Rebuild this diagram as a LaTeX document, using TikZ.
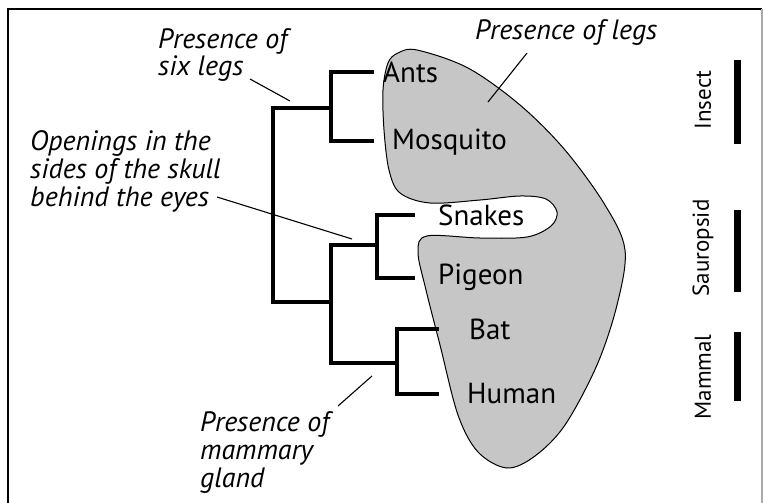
\documentclass[tikz,border=0pt]{standalone}
\usepackage{fontspec}
\setmainfont{PT Sans}
\usepackage{tikz}
\usetikzlibrary{positioning,calc}
\definecolor{blobfill}{RGB}{198,198,198}
\definecolor{framegray}{RGB}{170,170,170}
\tikzset{
  branch/.style={draw=black, line width=3.6pt, line cap=rect},
  lead/.style={draw=black, line width=1.1pt},
  bar/.style={draw=black, line width=7pt},
  taxon/.style={anchor=west, inner sep=0pt, font=\fontsize{29}{34}\selectfont},
  note/.style={anchor=west, inner sep=0pt, align=left, font=\fontsize{28}{28}\selectfont\itshape},
  grouplbl/.style={rotate=90, inner sep=0pt, font=\fontsize{23}{28}\selectfont},
  blob/.style={draw=black, line width=1pt, fill=blobfill}
}
\begin{document}
\begin{tikzpicture}[x=1pt, y=-1pt]
  \useasboundingbox (0,0) rectangle (763,503);
  % frame
  \draw[line width=1.2pt] (8,503) -- (8,9) -- (762,9);
  \draw[framegray, line width=1.2pt] (762,9) -- (762,503);

  % shaded region
  \draw[blob] plot[smooth cycle, tension=0.55] coordinates {
    (417,50) (468,68) (520,105) (565,150) (605,205) (625,250)
    (617,305) (597,365) (565,425) (535,456) (507,468) (478,452)
    (458,415) (440,345) (426,290) (418,252) (427,236) (480,238)
    (527,237) (551,226) (557,212) (546,199) (520,196) (480,200)
    (430,203) (400,193) (389,170) (384,130) (383,90) (388,63) (398,53)};

  % taxa
  \node[taxon] (ants) at (383,72) {Ants};
  \node[taxon] (mosq) at (392,142) {Mosquito};
  \node[taxon] (snakes) at (438,215) {Snakes};
  \node[taxon] (pigeon) at (438,277) {Pigeon};
  \node[taxon] (bat) at (469,329) {Bat};
  \node[taxon] (human) at (467,394) {Human};

  % branch points and tips
  \coordinate (root) at (273,200);
  \coordinate (ins) at (331,108);
  \coordinate (vert) at (331,302);
  \coordinate (saur) at (377,245);
  \coordinate (mamm) at (397,363);
  \coordinate (tAnts) at (372,72);
  \coordinate (tMosq) at (372,141);
  \coordinate (tSnakes) at (413,215);
  \coordinate (tPigeon) at (413,278);
  \coordinate (tBat) at (437,329);
  \coordinate (tHuman) at (437,394);

  \draw[branch] (ins) -| (root) |- (vert);
  \draw[branch] (tAnts) -| (ins) |- (tMosq);
  \draw[branch] (saur) -| (vert) |- (mamm);
  \draw[branch] (tSnakes) -| (saur) |- (tPigeon);
  \draw[branch] (tBat) -| (mamm) |- (tHuman);

  % character notes
  \node[note] (sixlegs) at (158,55) {Presence of\\six legs};
  \node[note] (openings) at (30,171) {Openings in the\\sides of the skull\\behind the eyes};
  \node[note] (gland) at (200,452) {Presence of\\mammary\\gland};
  \node[note] (legs) at (475,33) {Presence of legs};

  \coordinate (aSix) at (290,101);
  \coordinate (aOpen) at (352,239);
  \coordinate (aGland) at (372,376);
  \coordinate (aLegs) at (488,102);
  \draw[lead] (250,79) coordinate (sSix) -- (aSix);
  \draw[lead] (217,197) coordinate (sOpen) -- (aOpen);
  \draw[lead] (338,406) coordinate (sGland) -- (aGland);
  \draw[lead] (527,53) coordinate (sLegs) -- (aLegs);

  % groups
  \node[grouplbl] (insect) at (703,100) {Insect};
  \node[grouplbl] (sauro) at (703,248) {Sauropsid};
  \node[grouplbl] (mammal) at (703,377) {Mammal};
  \draw[bar] (737,60) coordinate (i1) -- (737,144) coordinate (i2);
  \draw[bar] (737,210) coordinate (s1) -- (737,292) coordinate (s2);
  \draw[bar] (737,332) coordinate (m1) -- (737,401) coordinate (m2);
\end{tikzpicture}
\end{document}
